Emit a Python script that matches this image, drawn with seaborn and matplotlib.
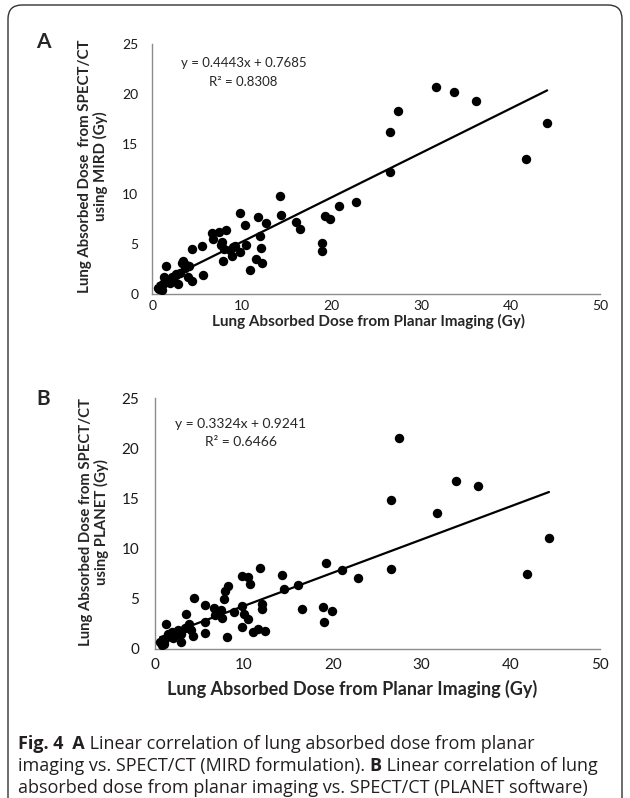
import numpy as np
import pandas as pd
import matplotlib
matplotlib.use("Agg")
import matplotlib.pyplot as plt
from matplotlib.patches import FancyBboxPatch
import seaborn as sns

# Panel A: planar vs SPECT/CT (MIRD)
planar_a = [0.6, 0.8, 1.1, 1.2, 1.3, 1.4, 1.5, 1.7, 2.0, 2.2, 2.3, 2.6, 2.7, 2.9, 3.1, 3.3,
            3.4, 3.7, 3.8, 4.0, 4.1, 4.4, 4.4, 5.6, 5.7, 6.7, 6.8, 7.5, 7.7, 7.8, 7.9, 8.0,
            8.2, 8.7, 8.9, 9.0, 9.2, 9.8, 9.8, 10.4, 10.5, 10.9, 11.6, 11.8, 12.0, 12.1, 12.3,
            12.7, 14.3, 14.4, 16.0, 16.5, 18.9, 19.0, 19.3, 19.8, 20.9, 22.8, 26.5, 26.5,
            27.4, 31.7, 33.7, 36.2, 41.7, 44.1]
mird = [0.65, 0.5, 0.45, 1.0, 1.7, 1.4, 2.8, 1.3, 1.1, 1.75, 1.3, 2.0, 1.9, 1.0, 2.1, 3.1,
        3.3, 2.6, 2.9, 1.7, 2.8, 4.55, 1.3, 4.8, 1.9, 6.1, 5.5, 6.2, 4.9, 5.2, 3.3, 4.5,
        6.45, 4.4, 3.8, 4.7, 4.8, 8.1, 4.2, 6.9, 4.9, 2.45, 3.5, 7.7, 5.8, 4.6, 3.1,
        7.1, 9.85, 7.9, 7.2, 6.5, 5.1, 4.3, 7.8, 7.55, 8.8, 9.25, 12.25, 16.2,
        18.35, 20.75, 20.2, 19.3, 13.55, 17.1]
slope_a, icpt_a, r2_a = 0.4443, 0.7685, 0.8308

# Panel B: planar vs SPECT/CT (PLANET)
planar_b = [0.6, 0.8, 1.1, 1.2, 1.3, 1.5, 1.7, 1.9, 2.0, 2.3, 2.5, 2.65, 2.9, 3.0, 3.4, 3.5,
            3.8, 4.1, 4.3, 4.4, 5.6, 5.6, 5.7, 6.7, 6.8, 7.5, 7.6, 7.8, 7.9, 8.2, 8.1, 8.9,
            9.8, 9.8, 9.8, 10.0, 10.5, 10.5, 10.7, 11.0, 11.6, 11.8, 12.1, 12.1, 12.4,
            14.3, 14.5, 16.1, 16.5, 18.95, 19.05, 19.3, 19.9, 21.0, 22.8, 26.5, 26.5,
            27.5, 31.7, 33.8, 36.3, 41.8, 44.3]
planet = [0.7, 0.4, 0.5, 1.0, 2.45, 1.5, 1.3, 1.7, 1.1, 1.6, 1.5, 1.85, 0.7, 1.5, 2.1, 3.45,
          2.5, 1.9, 1.3, 5.05, 4.4, 2.7, 1.6, 4.1, 3.4, 3.85, 3.1, 5.0, 5.75, 6.3, 1.2, 3.65,
          7.25, 4.25, 2.2, 3.5, 7.2, 3.0, 6.45, 1.7, 1.95, 8.1, 4.5, 4.0, 1.75,
          7.35, 5.95, 6.4, 4.0, 4.2, 2.7, 8.55, 3.8, 7.85, 7.1, 8.0, 14.9,
          21.05, 13.6, 16.8, 16.3, 7.45, 11.1]
slope_b, icpt_b, r2_b = 0.3324, 0.9241, 0.6466

xlabel = "Lung Absorbed Dose from Planar Imaging (Gy)"
ylabel_a = "Lung Absorbed Dose  from SPECT/CT\nusing MIRD (Gy)"
ylabel_b = "Lung Absorbed Dose from SPECT/CT\nusing PLANET (Gy)"

W, H = 630, 798

sns.set_style("white")
plt.rcParams['font.family'] = ['Lato', 'DejaVu Sans']

fig = plt.figure(figsize=(W / 100, H / 100), dpi=100)


def px(x, y):
    return x / W, 1 - y / H


# background axes in pixel units for the frame and caption
bg = fig.add_axes([0, 0, 1, 1], zorder=-1)
bg.set_xlim(0, W)
bg.set_ylim(H, 0)
bg.axis("off")
bg.add_patch(FancyBboxPatch((8, 5), 614, 840, boxstyle="round,pad=0,rounding_size=14",
                            fc="none", ec="#333333", lw=1.0))


def panel(ax, xs, ys, slope, icpt, r2, tick_fs, txt_fs, eq_x, eq_y, r2_y, ypad, xpad):
    sns.scatterplot(x=xs, y=ys, ax=ax, color="black", s=46, edgecolor="black",
                    linewidth=0, zorder=3)
    line = pd.DataFrame({"x": [min(xs), max(xs)]})
    line["y"] = slope * line["x"] + icpt
    sns.lineplot(data=line, x="x", y="y", ax=ax, color="black", linewidth=1.6, zorder=4)
    ax.set_xlim(0, 50)
    ax.set_ylim(0, 25)
    ax.set_xticks(range(0, 51, 10))
    ax.set_yticks(range(0, 26, 5))
    for s in ["top", "right"]:
        ax.spines[s].set_visible(False)
    for s in ["left", "bottom"]:
        ax.spines[s].set_color("#8c8c8c")
        ax.spines[s].set_linewidth(1.0)
    ax.tick_params(direction="out", length=3, width=0.8, color="#8c8c8c",
                   labelsize=tick_fs, labelcolor="#1a1a1a")
    ax.tick_params(axis="y", pad=ypad)
    ax.tick_params(axis="x", pad=xpad)
    ax.set_xlabel("")
    ax.set_ylabel("")
    ax.patch.set_alpha(0)
    ax.text(eq_x, eq_y, f"y = {slope}x + {icpt}", ha="center", va="center", fontsize=txt_fs)
    ax.text(eq_x, r2_y, f"R² = {r2}", ha="center", va="center", fontsize=txt_fs)


axA = fig.add_axes([152.3 / W, 1 - 294 / H, 447.7 / W, 250 / H])
panel(axA, planar_a, mird, slope_a, icpt_a, r2_a, 10, 9.5, 10.2, 23.1, 21.2, 7, 1.5)

axB = fig.add_axes([154.7 / W, 1 - 648.5 / H, 445 / W, 250 / H])
panel(axB, planar_b, planet, slope_b, icpt_b, r2_b, 11, 10, 9.7, 22.5, 20.6, 8, 4)

# axis titles
fig.text(*px(368, 321), xlabel, ha="center", va="center", fontsize=11, weight="bold")
fig.text(*px(352, 689), xlabel, ha="center", va="center", fontsize=13, weight="bold")
fig.text(*px(93, 166), ylabel_a, ha="center", va="center", rotation=90, fontsize=10.8,
         weight="bold", linespacing=1.1, multialignment="center")
fig.text(*px(94, 522), ylabel_b, ha="center", va="center", rotation=90, fontsize=10.7,
         weight="bold", linespacing=1.15, multialignment="center")

# panel letters
fig.text(*px(43, 42), "A", ha="center", va="center", fontsize=15, weight="bold")
fig.text(*px(43, 399), "B", ha="center", va="center", fontsize=15, weight="bold")

# caption with mixed bold/regular runs
cap_fs = 13
cap_font = ["Open Sans", "DejaVu Sans"]
caption = [
    [("Fig. 4", "bold"), ("  A", "bold"), (" Linear correlation of lung absorbed dose from planar", "normal")],
    [("imaging vs. SPECT/CT (MIRD formulation). ", "normal"), ("B", "bold"), (" Linear correlation of lung", "normal")],
    [("absorbed dose from planar imaging vs. SPECT/CT (PLANET software)", "normal")],
]
baselines = [749, 771, 793]
for runs, yb in zip(caption, baselines):
    prev = None
    for txt, wt in runs:
        if prev is None:
            prev = bg.text(18, yb, txt, fontsize=cap_fs, weight=wt, family=cap_font,
                           color="#231f20", va="baseline", ha="left")
        else:
            prev = bg.annotate(txt, xy=(1, 0), xycoords=prev, fontsize=cap_fs, weight=wt,
                               family=cap_font, color="#231f20", va="bottom", ha="left")

fig.savefig("out.png", dpi=100)
